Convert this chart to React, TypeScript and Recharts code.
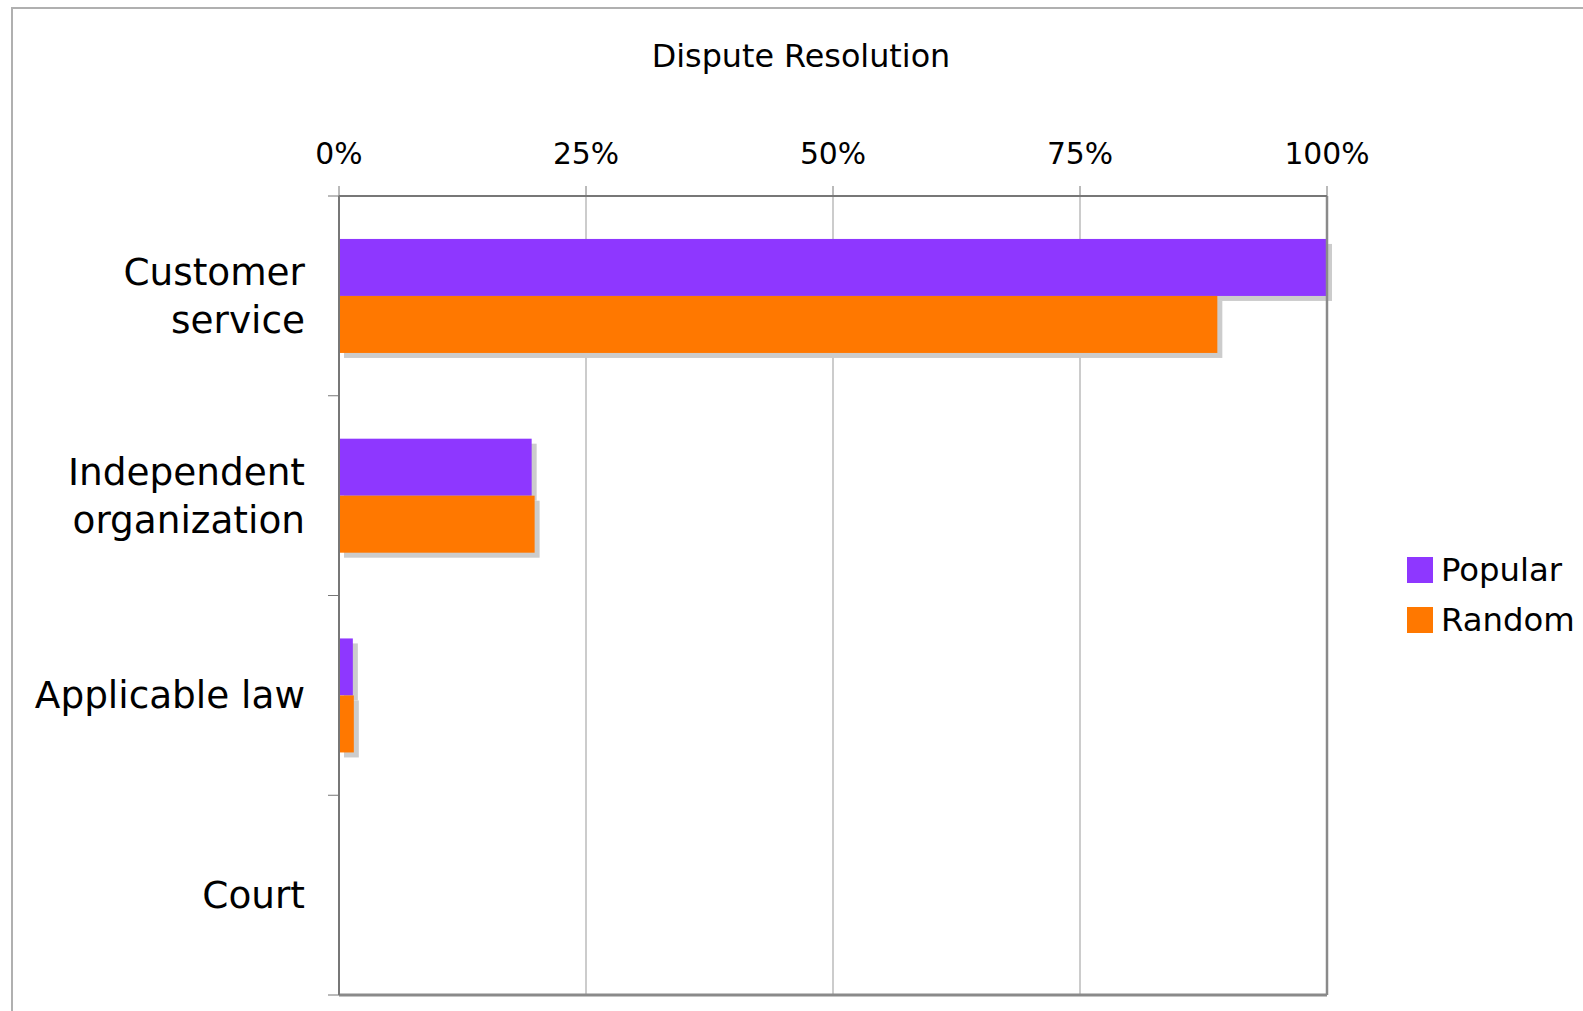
import React from "react";
import { BarChart, Bar, XAxis, YAxis, CartesianGrid, ReferenceLine } from "recharts";

const categories = ["Customer service", "Independent organization", "Applicable law", "Court"];
const popular = [100, 19.5, 1.4, 0];
const random = [88.9, 19.8, 1.5, 0];
const percentTicks = [0, 25, 50, 75, 100];

const series = [
  { key: "popular", name: "Popular", color: "#8E37FF" },
  { key: "random", name: "Random", color: "#FF7800" },
];

const data = categories.map((name, i) => ({ name, popular: popular[i], random: random[i] }));

const FONT = '"DejaVu Sans", Verdana, sans-serif';
const W = 1583;
const H = 1011;

// bar with a flat grey drop shadow, offset down/right
const ShadowBar = (props: any) => {
  const { x, y, width, height, fill } = props;
  if (!width || width <= 0) return <g />;
  return (
    <g>
      <rect x={x + 5} y={y + 5} width={width} height={height} fill="#cccccc" />
      <rect x={x} y={y} width={width} height={height} fill={fill} />
    </g>
  );
};

// right-aligned category label, wrapped on words, plus tick marks at band edges
const CategoryTick = (props: any) => {
  const { x, y, payload, index } = props;
  const label: string = payload.value;
  const lines = label.length > 15 ? label.split(" ") : [label];
  const half = payload.offset ?? 0;
  const axisX = x + 34;
  const first = y + 13 - (lines.length - 1) * 24;
  return (
    <g>
      <line x1={axisX - 11} x2={axisX} y1={y - half} y2={y - half} stroke="#777" strokeWidth={1} />
      {index === categories.length - 1 && (
        <line x1={axisX - 11} x2={axisX} y1={y + half} y2={y + half} stroke="#777" strokeWidth={1} />
      )}
      <text x={x} y={first} textAnchor="end" fontSize={37.4} fontFamily={FONT} fill="#000">
        {lines.map((l, i) => (
          <tspan key={i} x={x} dy={i === 0 ? 0 : 48}>
            {l}
          </tspan>
        ))}
      </text>
    </g>
  );
};

export default function App() {
  return (
    <div style={{ position: "absolute", left: 0, top: 0, width: W, height: H, overflow: "hidden", background: "#fff" }}>
      <svg width={W} height={H} style={{ position: "absolute", left: 0, top: 0 }}>
        <rect x={12} y={8} width={W + 20} height={H + 20} fill="none" stroke="#b0b0b0" strokeWidth={2} />
        <text x={801} y={67} textAnchor="middle" fontSize={31.8} fontFamily={FONT} fill="#000">
          Dispute Resolution
        </text>
        {series.map((s, i) => (
          <g key={s.key}>
            <rect x={1407} y={557 + i * 50} width={26} height={26} fill={s.color} />
            <text x={1441} y={581 + i * 50} fontSize={32.3} fontFamily={FONT} fill="#000">
              {s.name}
            </text>
          </g>
        ))}
      </svg>
      <div style={{ position: "absolute", left: 0, top: 0 }}>
        <BarChart
          width={W}
          height={H}
          layout="vertical"
          data={data}
          margin={{ top: 146, right: 256, bottom: 15, left: 39 }}
          barCategoryGap="21.5%"
          barGap={0}
        >
          <CartesianGrid horizontal={false} stroke="#999" />
          <XAxis
            type="number"
            orientation="top"
            domain={[0, 100]}
            ticks={percentTicks}
            interval={0}
            tickFormatter={(v: number) => `${v}%`}
            height={50}
            tickSize={10}
            tickMargin={22}
            axisLine={{ stroke: "#777", strokeWidth: 2 }}
            tickLine={{ stroke: "#777" }}
            tick={{ fontSize: 29.8, fill: "#000", fontFamily: FONT }}
          />
          <XAxis
            xAxisId="frame"
            type="number"
            orientation="bottom"
            domain={[0, 100]}
            height={1}
            tick={false}
            tickLine={false}
            axisLine={{ stroke: "#8a8a8a", strokeWidth: 3 }}
          />
          <YAxis
            type="category"
            dataKey="name"
            width={300}
            interval={0}
            tickSize={0}
            tickMargin={34}
            tickLine={false}
            axisLine={{ stroke: "#777", strokeWidth: 2 }}
            tick={<CategoryTick />}
          />
          <ReferenceLine x={100} stroke="#8a8a8a" strokeWidth={2.5} />
          {series.map((s) => (
            <Bar
              key={s.key}
              dataKey={s.key}
              name={s.name}
              fill={s.color}
              shape={<ShadowBar />}
              isAnimationActive={false}
            />
          ))}
        </BarChart>
      </div>
    </div>
  );
}
